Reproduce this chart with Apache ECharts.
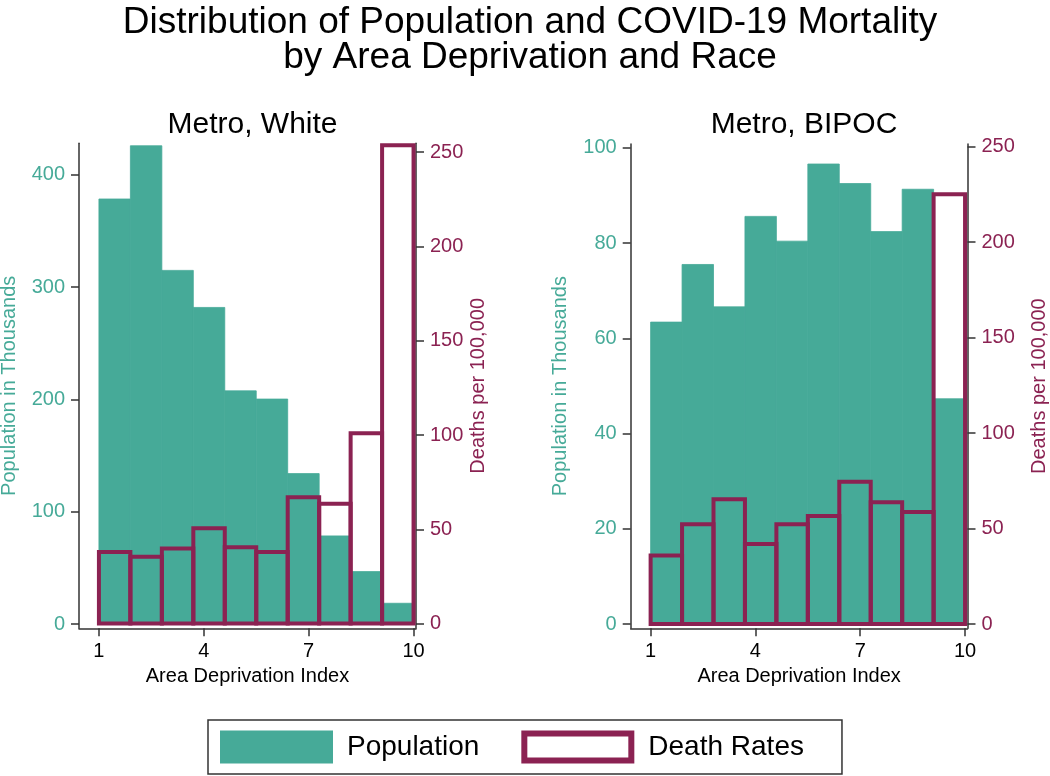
<!DOCTYPE html>
<html>
<head>
<meta charset="utf-8">
<script src="https://cdn.jsdelivr.net/npm/echarts@6/dist/echarts.min.js"></script>
<style>
html,body{margin:0;padding:0;background:#fff;}
#chart{width:1050px;height:776px;}
</style>
</head>
<body>
<div id="chart"></div>
<script>
// ---- Data ----
const adiBinEdges = [1, 1.9, 2.8, 3.7, 4.6, 5.5, 6.4, 7.3, 8.2, 9.1, 10]; // histogram bins of ADI deciles
const xTicks = [1, 4, 7, 10];

const whitePopulation = [378.6, 426, 315, 282, 207.7, 200.4, 134, 78.5, 46.7, 18.5]; // thousands
const whiteDeathRate  = [38, 35.5, 39.8, 50.6, 40.5, 38, 67, 63.6, 101, 253.7];      // per 100,000
const bipocPopulation = [63.4, 75.5, 66.6, 85.6, 80.4, 96.6, 92.5, 82.4, 91.3, 47.3];
const bipocDeathRate  = [35.9, 52.2, 65.3, 41.9, 52.2, 56.5, 74.5, 63.8, 58.6, 225];

const whitePopTicks = [0, 100, 200, 300, 400];
const whiteDeathTicks = [0, 50, 100, 150, 200, 250];
const bipocPopTicks = [0, 20, 40, 60, 80, 100];
const bipocDeathTicks = [0, 50, 100, 150, 200, 250];

const mainTitle = 'Distribution of Population and COVID-19 Mortality\nby Area Deprivation and Race';
const panelTitles = ['Metro, White', 'Metro, BIPOC'];
const legendNames = ['Population', 'Death Rates'];

// ---- Styles ----
const TEAL = '#46AA98';
const MAROON = '#8B2252';
const AXIS = '#333';
const FONT = "'Liberation Sans', Arial, Helvetica, sans-serif";

function binData(values) {
  return values.map((v, i) => [adiBinEdges[i], adiBinEdges[i + 1], v]);
}

function renderBar(fill, stroke, lw) {
  return function (params, api) {
    const p0 = api.coord([api.value(0), api.value(2)]);
    const p1 = api.coord([api.value(1), 0]);
    return {
      type: 'rect',
      shape: { x: p0[0], y: p0[1], width: p1[0] - p0[0], height: p1[1] - p0[1] },
      style: { fill: fill, stroke: stroke, lineWidth: lw }
    };
  };
}

function xAxisDef(gridIndex) {
  return {
    type: 'value', gridIndex: gridIndex, min: 0.43, max: 10.07,
    name: 'Area Deprivation Index', nameLocation: 'middle', nameGap: 38,
    nameTextStyle: { color: '#000', fontSize: 20, fontFamily: FONT },
    axisLine: { onZero: false, lineStyle: { color: AXIS, width: 1.5 } },
    axisTick: { show: true, length: 8, lineStyle: { color: AXIS, width: 1.5 }, customValues: xTicks },
    axisLabel: { color: '#000', fontSize: 20, fontFamily: FONT, margin: 13, customValues: xTicks },
    splitLine: { show: false }
  };
}

function yAxisDef(gridIndex, pos, min, max, ticks, color, name, nameGap) {
  return {
    type: 'value', gridIndex: gridIndex, position: pos, min: min, max: max,
    name: name, nameLocation: 'middle', nameGap: nameGap,
    nameTextStyle: { color: color, fontSize: 20, fontFamily: FONT },
    axisLine: { show: true, onZero: false, lineStyle: { color: AXIS, width: 1.5 } },
    axisTick: { show: true, length: 8, lineStyle: { color: AXIS, width: 1.5 }, customValues: ticks },
    axisLabel: { color: color, fontSize: 20, fontFamily: FONT, margin: 14, customValues: ticks },
    splitLine: { show: false }
  };
}

const chart = echarts.init(document.getElementById('chart'), null, { renderer: 'canvas' });

const option = {
  backgroundColor: '#fff',
  animation: false,
  title: [
    { text: mainTitle, left: 525, top: 0, textAlign: 'center',
      textStyle: { fontSize: 37, fontWeight: 'normal', color: '#000', fontFamily: FONT, lineHeight: 35, align: 'center' } },
    { text: panelTitles[0], left: 247.5, top: 105, textAlign: 'center',
      textStyle: { fontSize: 30, fontWeight: 'normal', color: '#000', fontFamily: FONT, lineHeight: 30 } },
    { text: panelTitles[1], left: 799, top: 105, textAlign: 'center',
      textStyle: { fontSize: 30, fontWeight: 'normal', color: '#000', fontFamily: FONT, lineHeight: 30 } }
  ],
  legend: {
    left: 208, top: 720, orient: 'horizontal',
    padding: [10.5, 38, 10.5, 12],
    borderColor: '#333', borderWidth: 1.5,
    itemWidth: 113, itemHeight: 33, itemGap: 42,
    textStyle: { fontSize: 28, color: '#000', fontFamily: FONT, padding: [0, 0, 0, 9] },
    data: [
      { name: legendNames[0], icon: 'rect', itemStyle: { color: TEAL, borderWidth: 0 } },
      { name: legendNames[1], icon: 'path://M0,0H113V33H0Z M6,6V27H107V6Z',
        itemStyle: { color: MAROON, borderWidth: 0 } }
    ],
    selectedMode: false
  },
  grid: [
    { left: 79, right: 634, top: 143.3, bottom: 147.7, containLabel: false, outerBoundsMode: 'none' },
    { left: 630.7, right: 82.5, top: 144, bottom: 147.7, containLabel: false, outerBoundsMode: 'none' }
  ],
  xAxis: [xAxisDef(0), xAxisDef(1)],
  yAxis: [
    yAxisDef(0, 'left', -3.8, 428.2, whitePopTicks, TEAL, 'Population in Thousands', 60),
    yAxisDef(0, 'right', -2.5, 254.7, whiteDeathTicks, MAROON, 'Deaths per 100,000', 52),
    yAxisDef(1, 'left', -0.9, 100.8, bipocPopTicks, TEAL, 'Population in Thousands', 60),
    yAxisDef(1, 'right', -2.25, 251.3, bipocDeathTicks, MAROON, 'Deaths per 100,000', 62)
  ],
  series: [
    { name: legendNames[0], type: 'custom', xAxisIndex: 0, yAxisIndex: 0,
      encode: { x: [0, 1], y: 2 }, data: binData(whitePopulation),
      itemStyle: { color: TEAL }, renderItem: renderBar(TEAL, TEAL, 0.8), z: 2 },
    { name: legendNames[1], type: 'custom', xAxisIndex: 0, yAxisIndex: 1,
      encode: { x: [0, 1], y: 2 }, data: binData(whiteDeathRate),
      itemStyle: { color: MAROON }, renderItem: renderBar('transparent', MAROON, 4), z: 3 },
    { name: legendNames[0], type: 'custom', xAxisIndex: 1, yAxisIndex: 2,
      encode: { x: [0, 1], y: 2 }, data: binData(bipocPopulation),
      itemStyle: { color: TEAL }, renderItem: renderBar(TEAL, TEAL, 0.8), z: 2 },
    { name: legendNames[1], type: 'custom', xAxisIndex: 1, yAxisIndex: 3,
      encode: { x: [0, 1], y: 2 }, data: binData(bipocDeathRate),
      itemStyle: { color: MAROON }, renderItem: renderBar('transparent', MAROON, 4), z: 3 }
  ]
};

chart.setOption(option);
</script>
</body>
</html>
